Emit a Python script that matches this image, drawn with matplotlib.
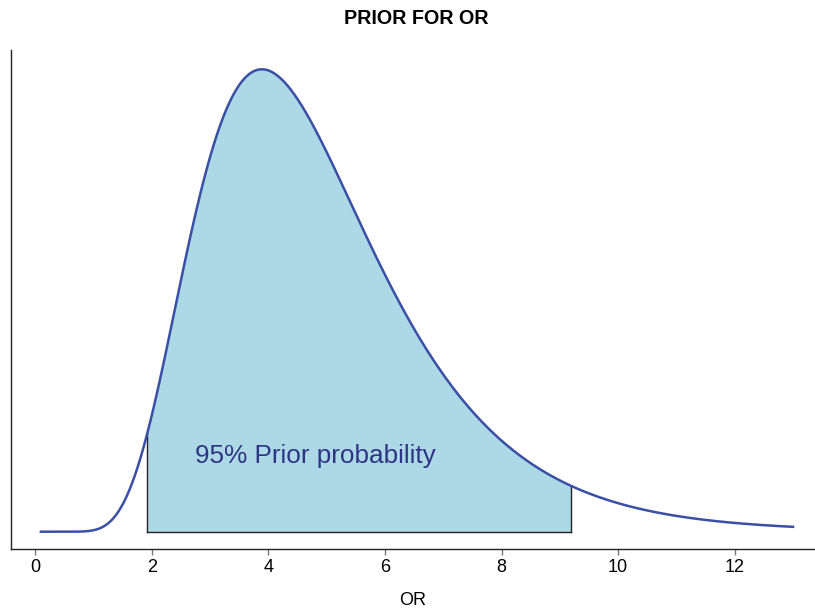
import numpy as np
import matplotlib.pyplot as plt

# prior on the log odds ratio: centre (as OR) and spread on the log scale
prior_centre_or = 3.89
prior_sd_log = 0.40
# shaded 95% prior interval on the OR scale
ci_low = 1.925
ci_high = 9.20
or_start, or_end = 0.1, 13.0
xticks = [0, 2, 4, 6, 8, 10, 12]

plt.rcParams['font.family'] = ['Liberation Sans', 'DejaVu Sans']


def prior_density(x):
    z = (np.log(x) - np.log(prior_centre_or)) / prior_sd_log
    return np.exp(-0.5 * z ** 2) / (prior_sd_log * np.sqrt(2 * np.pi))


x = np.linspace(or_start, or_end, 800)
y = prior_density(x)
peak = y.max()

fig = plt.figure(figsize=(8.15, 6.13), dpi=100)
ax = fig.add_axes([0.0135, 0.1044, 0.9865, 0.814])

# shaded interval
xs = np.linspace(ci_low, ci_high, 400)
ax.fill_between(xs, 0, prior_density(xs), color='#add8e6', lw=0, zorder=1)
ax.plot([ci_low, ci_low], [0, prior_density(ci_low)], color='#222222', lw=1.0, zorder=2)
ax.plot([ci_high, ci_high], [0, prior_density(ci_high)], color='#222222', lw=1.0, zorder=2)
ax.plot([ci_low, ci_high], [0, 0], color='#222222', lw=1.0, zorder=2)

ax.plot(x, y, color='#3a4fa6', lw=1.8, zorder=3)

ax.text(2.74, 0.164 * peak, '95% Prior probability', fontsize=18.8,
        color='#2e3585', ha='left', va='center', zorder=4)

ax.set_xlim(-0.413, 13.377)
ax.set_ylim(-0.0374 * peak, 1.0417 * peak)

ax.set_xticks(xticks)
ax.set_yticks([])
ax.tick_params(axis='x', direction='out', length=4, width=1, color='#777777',
               labelsize=13, pad=3)
ax.spines['top'].set_visible(False)
ax.spines['right'].set_visible(False)
for s in ('left', 'bottom'):
    ax.spines[s].set_color('#222222')
    ax.spines[s].set_linewidth(1.0)

ax.set_xlabel('OR', fontsize=13, labelpad=12)
fig.text(0.511, 0.970, 'PRIOR FOR OR', fontsize=14.2, fontweight='bold',
         ha='center', va='center')

fig.savefig('out.png', dpi=100)
